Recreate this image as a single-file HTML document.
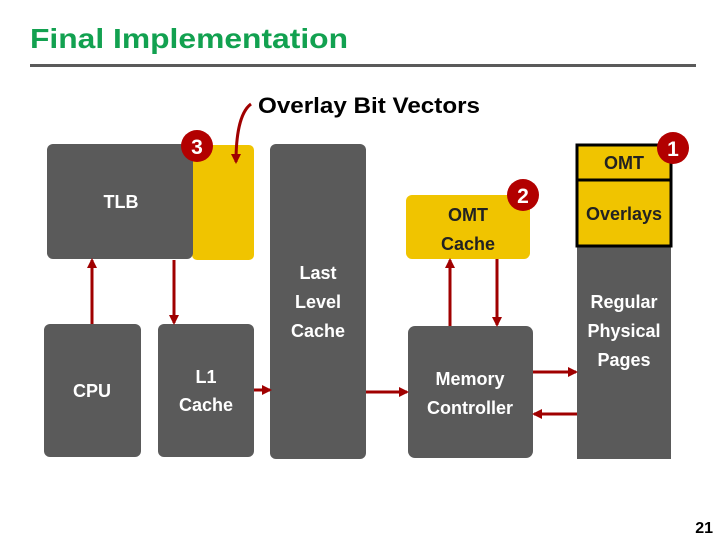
<!DOCTYPE html>
<html><head><meta charset="utf-8"><style>
html,body{margin:0;padding:0;background:#fff;}
svg{display:block;}
text{font-family:"Liberation Sans",sans-serif;font-weight:bold;}
</style></head><body>
<svg width="720" height="540" viewBox="0 0 720 540" xmlns="http://www.w3.org/2000/svg">
<defs>
<marker id="a" markerWidth="12" markerHeight="12" refX="8" refY="5" orient="auto" markerUnits="userSpaceOnUse">
<path d="M0,0 L10,5 L0,10 z" fill="#a00000"/></marker>
</defs>
<text x="30" y="48" font-size="28" fill="#12a150" textLength="318" lengthAdjust="spacingAndGlyphs">Final Implementation</text>
<rect x="30" y="64" width="666" height="3" fill="#5a5a5a"/>
<text x="258" y="113" font-size="22" fill="#000" textLength="222" lengthAdjust="spacingAndGlyphs">Overlay Bit Vectors</text>

<!-- TLB + yellow -->
<rect x="192" y="145" width="62" height="115" rx="5" fill="#f0c400"/>
<rect x="47" y="144" width="146" height="115" rx="6" fill="#5a5a5a"/>
<text x="121" y="208" font-size="18" fill="#fff" text-anchor="middle">TLB</text>
<circle cx="197" cy="146" r="16" fill="#b20000"/>
<text x="197" y="154" font-size="21" fill="#fff" text-anchor="middle">3</text>

<!-- LLC -->
<rect x="270" y="144" width="96" height="315" rx="6" fill="#5a5a5a"/>
<text font-size="18" fill="#fff" text-anchor="middle"><tspan x="318" y="279">Last</tspan><tspan x="318" y="308">Level</tspan><tspan x="318" y="337">Cache</tspan></text>

<!-- CPU, L1 -->
<rect x="44" y="324" width="97" height="133" rx="6" fill="#5a5a5a"/>
<text x="92" y="397" font-size="18" fill="#fff" text-anchor="middle">CPU</text>
<rect x="158" y="324" width="96" height="133" rx="6" fill="#5a5a5a"/>
<text font-size="18" fill="#fff" text-anchor="middle"><tspan x="206" y="383">L1</tspan><tspan x="206" y="411">Cache</tspan></text>

<!-- OMT cache -->
<rect x="406" y="195" width="124" height="64" rx="6" fill="#f0c400"/>
<text font-size="18" fill="#222" text-anchor="middle"><tspan x="468" y="221">OMT</tspan><tspan x="468" y="250">Cache</tspan></text>
<circle cx="523" cy="195" r="16" fill="#b20000"/>
<text x="523" y="203" font-size="21" fill="#fff" text-anchor="middle">2</text>

<!-- Memory controller -->
<rect x="408" y="326" width="125" height="132" rx="7" fill="#5a5a5a"/>
<text font-size="18" fill="#fff" text-anchor="middle"><tspan x="470" y="385">Memory</tspan><tspan x="470" y="414">Controller</tspan></text>

<!-- Right column -->
<rect x="577" y="247" width="94" height="212" fill="#5a5a5a"/>
<rect x="577" y="145" width="94" height="35" fill="#f0c400" stroke="#000" stroke-width="3"/>
<rect x="577" y="180" width="94" height="66" fill="#f0c400" stroke="#000" stroke-width="3"/>
<text x="624" y="169" font-size="18" fill="#222" text-anchor="middle">OMT</text>
<text x="624" y="220" font-size="18" fill="#222" text-anchor="middle">Overlays</text>
<circle cx="673" cy="148" r="16" fill="#b20000"/>
<text x="673" y="156" font-size="21" fill="#fff" text-anchor="middle">1</text>
<text font-size="18" fill="#fff" text-anchor="middle"><tspan x="624" y="308">Regular</tspan><tspan x="624" y="337">Physical</tspan><tspan x="624" y="366">Pages</tspan></text>

<!-- arrows -->
<g stroke="#a00000" stroke-width="3" fill="none">
<path d="M251,104 C240,112 236,135 236,162" marker-end="url(#a)"/>
<line x1="92" y1="324" x2="92" y2="260" marker-end="url(#a)"/>
<line x1="174" y1="260" x2="174" y2="323" marker-end="url(#a)"/>
<line x1="254" y1="390" x2="270" y2="390" marker-end="url(#a)"/>
<line x1="366" y1="392" x2="407" y2="392" marker-end="url(#a)"/>
<line x1="450" y1="326" x2="450" y2="260" marker-end="url(#a)"/>
<line x1="497" y1="259" x2="497" y2="325" marker-end="url(#a)"/>
<line x1="533" y1="372" x2="576" y2="372" marker-end="url(#a)"/>
<line x1="577" y1="414" x2="534" y2="414" marker-end="url(#a)"/>
</g>

<text x="713" y="533" font-size="16" fill="#000" text-anchor="end">21</text>
</svg>
</body></html>
